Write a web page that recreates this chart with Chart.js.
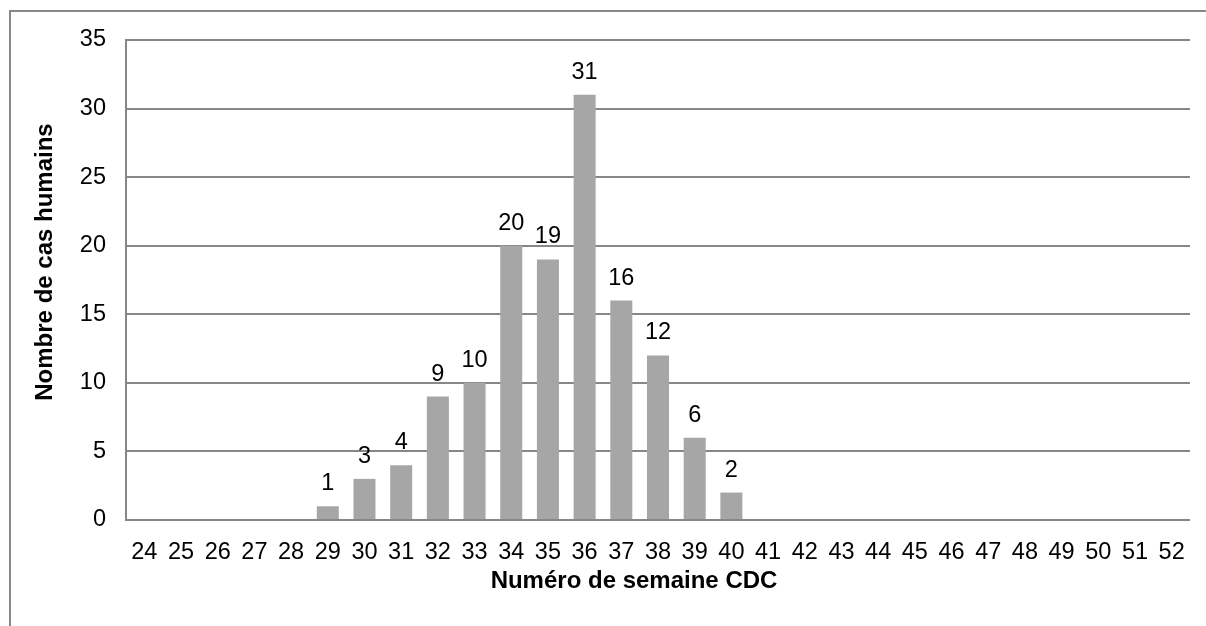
<!DOCTYPE html>
<html>
<head>
<meta charset="utf-8">
<script src="https://cdn.jsdelivr.net/npm/chart.js@4"></script>
<style>
    html, body { margin: 0; padding: 0; background: #ffffff; overflow: hidden; }
    #cadre {
        position: absolute; left: 9px; top: 10px;
        width: 1400px; height: 800px;
        border-left: 2px solid #888888; border-top: 2px solid #888888;
    }
    #boite { position: absolute; left: 0; top: 0; width: 1206px; height: 626px; }
</style>
</head>
<body>
<div id="cadre"></div>
<div id="boite"><canvas id="casHumainsChart"></canvas></div>
<script>
const semaines = ['24', '25', '26', '27', '28', '29', '30', '31', '32', '33', '34', '35', '36', '37', '38',
    '39', '40', '41', '42', '43', '44', '45', '46', '47', '48', '49', '50', '51', '52'];
const casHumains = [0, 0, 0, 0, 0, 1, 3, 4, 9, 10, 20, 19, 31, 16, 12, 6, 2, 0, 0, 0, 0, 0, 0, 0, 0, 0, 0, 0, 0];
const ticksY = [0, 5, 10, 15, 20, 25, 30, 35];

const couleurs = {
    barre: '#a6a6a6',
    grille: '#878787',
    texte: '#000000'
};

const policeTexte = "'Liberation Sans', Arial, sans-serif";

// étiquettes au-dessus des barres + titres des axes
const etiquettesPlugin = {
    id: 'etiquettes',
    afterDatasetsDraw(chart) {
        const ctx = chart.ctx;
        const meta = chart.getDatasetMeta(0);
        ctx.save();
        ctx.fillStyle = couleurs.texte;
        ctx.font = '23.5px ' + policeTexte;
        ctx.textAlign = 'center';
        ctx.textBaseline = 'alphabetic';
        meta.data.forEach((barre, i) => {
            const v = casHumains[i];
            if (!v) return;
            ctx.fillText(String(v), barre.x, barre.y - 16);
        });

        const zone = chart.chartArea;
        ctx.font = 'bold 24px ' + policeTexte;
        ctx.textBaseline = 'middle';
        ctx.fillText('Numéro de semaine CDC', (zone.left + zone.right) / 2 - 24, zone.bottom + 61);
        ctx.translate(45, (zone.top + zone.bottom) / 2 - 18);
        ctx.rotate(-Math.PI / 2);
        ctx.fillText('Nombre de cas humains', 0, 0);
        ctx.restore();
    }
};

new Chart(document.getElementById('casHumainsChart'), {
    type: 'bar',
    data: {
        labels: semaines,
        datasets: [{
            data: casHumains,
            backgroundColor: couleurs.barre,
            barPercentage: 0.6,
            categoryPercentage: 1.0
        }]
    },
    options: {
        responsive: true,
        maintainAspectRatio: false,
        animation: false,
        layout: { padding: { left: 0, top: 40, right: 16, bottom: 0 } },
        plugins: {
            legend: { display: false },
            tooltip: { enabled: false }
        },
        scales: {
            x: {
                offset: true,
                grid: { display: false, drawTicks: false },
                border: { display: false },
                ticks: {
                    color: couleurs.texte,
                    font: { family: policeTexte, size: 23.5 },
                    padding: 18,
                    autoSkip: false,
                    maxRotation: 0,
                    minRotation: 0
                },
                afterFit: (scale) => { scale.height = 106; }
            },
            y: {
                min: 0,
                max: 35,
                afterBuildTicks: (scale) => { scale.ticks = ticksY.map(v => ({ value: v })); },
                grid: { color: couleurs.grille, lineWidth: 2, drawTicks: false },
                border: { display: true, color: couleurs.grille, width: 2 },
                ticks: {
                    color: couleurs.texte,
                    font: { family: policeTexte, size: 23.5 },
                    padding: 20
                },
                afterFit: (scale) => { scale.width = 126; }
            }
        }
    },
    plugins: [etiquettesPlugin]
});
</script>
</body>
</html>
